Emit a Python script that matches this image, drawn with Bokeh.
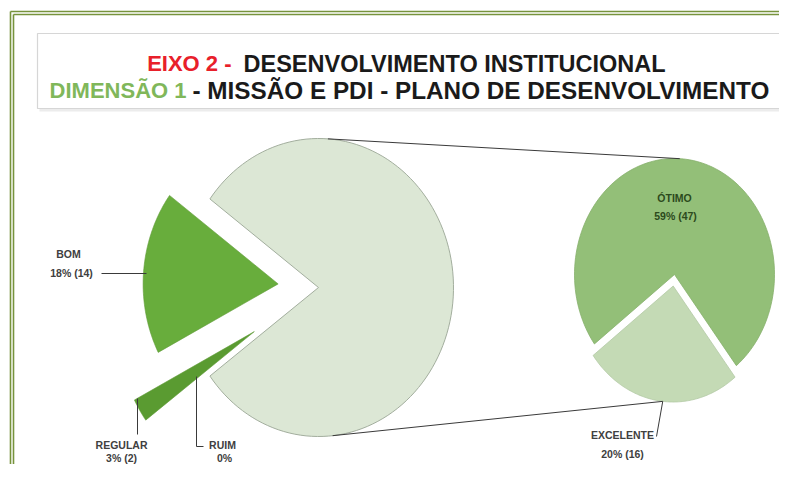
import numpy as np
from bokeh.plotting import figure
from bokeh.models import Range1d
from bokeh.core.properties import value
from bokeh.embed import file_html
from bokeh.resources import INLINE

# ---------------- data ----------------
main_categories = ["BOM", "REGULAR", "RUIM"]
main_counts = [14, 2, 0]
main_labels = ["18% (14)", "3% (2)", "0%"]

sec_categories = ["ÓTIMO", "EXCELENTE"]
sec_counts = [47, 16]
sec_labels = ["59% (47)", "20% (16)"]

title_line1 = ["EIXO 2 -", "DESENVOLVIMENTO INSTITUCIONAL"]
title_line2 = ["DIMENSÃO 1", "- MISSÃO E PDI - PLANO DE DESENVOLVIMENTO"]

# ---------------- geometry / style ----------------
W, H = 779, 464
p = figure(width=W, height=H, x_range=Range1d(0, W), y_range=Range1d(H, 0),
           x_axis_type=None, y_axis_type=None, toolbar_location=None,
           output_backend="svg", min_border=0, outline_line_color=None,
           background_fill_color="white", border_fill_color="white")
p.grid.visible = False

# double green frame
frame_col = "#77933c"
for off in (0, 3):
    p.multi_line(xs=[[10 + off, 10 + off], [10 + off, 800]],
                 ys=[[11 + off, 490], [11 + off, 11 + off]],
                 line_color=frame_col, line_width=1.6)

# title box with soft shadow
p.quad(left=39, right=791, top=35, bottom=111, fill_color="#ececec", line_color=None)
p.quad(left=37, right=788, top=33, bottom=108, fill_color="white", line_color="#d6d6d6", line_width=1.2)

TF = value("Liberation Sans")
p.text(x=[231], y=[63], text=[title_line1[0]], text_align="right", text_baseline="alphabetic",
       text_font=TF, text_font_style="bold", text_font_size="22px", text_color="#e8202a")
p.text(x=[243], y=[63], text=[title_line1[1]], text_align="left", text_baseline="alphabetic",
       text_font=TF, text_font_style="bold", text_font_size="23.5px", text_color="#1a1a1a")
p.text(x=[186], y=[90], text=[title_line2[0]], text_align="right", text_baseline="alphabetic",
       text_font=TF, text_font_style="bold", text_font_size="22px", text_color="#80b75a")
p.text(x=[192], y=[90], text=[title_line2[1]], text_align="left", text_baseline="alphabetic",
       text_font=TF, text_font_style="bold", text_font_size="24.3px", text_color="#1a1a1a")


def ellipse_wedge(cx, cy, rx, ry, a0, a1, explode=0.0, n=120):
    mid = np.radians((a0 + a1) / 2.0)
    ox = explode * rx * np.cos(mid)
    oy = -explode * ry * np.sin(mid)
    t = np.radians(np.linspace(a0, a1, n))
    xs = [cx + ox] + list(cx + ox + rx * np.cos(t)) + [cx + ox]
    ys = [cy + oy] + list(cy + oy - ry * np.sin(t)) + [cy + oy]
    return xs, ys


# ---- main pie ----
MCX, MCY, MRX, MRY = 318, 287, 135, 149
total = sum(main_counts) + sum(sec_counts)
other = sum(sec_counts)
other_span = other / total * 360.0
a_start = other_span / 2.0
xs, ys = ellipse_wedge(MCX, MCY, MRX, MRY, -a_start, a_start)
p.patch(xs, ys, fill_color="#dce7d5", line_color="#a3ae9e", line_width=1)

main_cols = ["#68ad3c", "#5a9b31", "#5a9b31"]
main_explode = [0.30, 0.56, 0.56]
mx, my = [], []
a = a_start
for c, e in zip(main_counts, main_explode):
    span = c / total * 360.0
    x_, y_ = ellipse_wedge(MCX, MCY, MRX, MRY, a, a + span, explode=e)
    mx.append(x_)
    my.append(y_)
    a += span
line_alpha = [1.0 if c > 0 else 0.0 for c in main_counts]
fill_alpha = [1.0 if c > 0 else 0.0 for c in main_counts]
p.patches(xs=mx, ys=my, fill_color=main_cols, fill_alpha=fill_alpha,
          line_color="#5f9a38", line_alpha=line_alpha, line_width=0.6)

# ---- secondary pie ----
SCX, SCY, SRX, SRY = 674, 274, 100, 116
exc_span = sec_counts[1] / other * 360.0
exc_mid = 262.5
e0, e1 = exc_mid - exc_span / 2, exc_mid + exc_span / 2
sx1, sy1 = ellipse_wedge(SCX, SCY, SRX, SRY, e1, e0 + 360)
sx2, sy2 = ellipse_wedge(SCX, SCY, SRX, SRY, e0, e1, explode=0.1)
p.patches(xs=[sx1, sx2], ys=[sy1, sy2], fill_color=["#93bf78", "#c4dab5"],
          line_color=["#86b06c", "#b3c9a4"], line_width=0.8)

# connector lines
def ept(cx, cy, rx, ry, ang, ox=0.0, oy=0.0):
    t = np.radians(ang)
    return cx + ox + rx * np.cos(t), cy + oy - ry * np.sin(t)

mt = ept(MCX, MCY, MRX, MRY, 86)
mb = ept(MCX, MCY, MRX, MRY, -84)
st = ept(SCX, SCY, SRX, SRY, 87)
eo_x = 0.1 * SRX * np.cos(np.radians(exc_mid))
eo_y = -0.1 * SRY * np.sin(np.radians(exc_mid))
sb = ept(SCX, SCY, SRX, SRY, 264, eo_x, eo_y)
p.multi_line(xs=[[mt[0], st[0]], [mb[0], sb[0]]], ys=[[mt[1], st[1]], [mb[1], sb[1]]],
             line_color="#3a3a3a", line_width=1)

# leader lines
p.multi_line(xs=[[101, 146], [137, 137], [196, 196, 203], [sb[0], 656]],
             ys=[[273, 273], [398, 434], [376, 446, 446], [sb[1], 436]],
             line_color="#3a3a3a", line_width=1)

# labels
LF = value("Liberation Sans")
p.text(x=[68, 121, 222], y=[253, 444, 444], text=main_categories, text_align="center",
       text_baseline="middle", text_font=LF, text_font_style="bold", text_font_size="10.5px",
       text_color="#404040")
p.text(x=[71, 121, 224], y=[272, 457, 457], text=main_labels, text_align="center",
       text_baseline="middle", text_font=LF, text_font_style="bold", text_font_size="10.5px",
       text_color="#404040")
p.text(x=[674, 622], y=[197, 434], text=sec_categories, text_align="center", text_baseline="middle",
       text_font=LF, text_font_style="bold", text_font_size="10.5px",
       text_color=["#2c4a1c", "#404040"])
p.text(x=[675, 622], y=[215, 453], text=sec_labels, text_align="center", text_baseline="middle",
       text_font=LF, text_font_style="bold", text_font_size="10.5px",
       text_color=["#2c4a1c", "#404040"])

open("out.html", "w").write(file_html(p, INLINE))
